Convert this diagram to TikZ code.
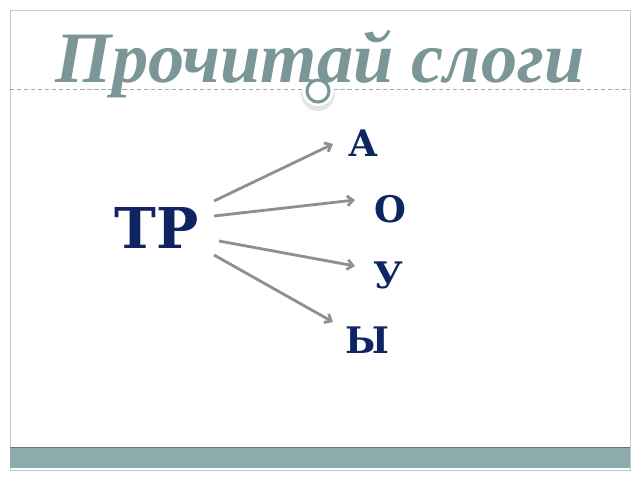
\documentclass[tikz,border=0pt]{standalone}
\usepackage{fontspec}
\setmainfont{DejaVu Serif}
\newfontfamily\headfont{Liberation Serif}
\usetikzlibrary{positioning, arrows.meta}

\definecolor{slate}{HTML}{7B9696}
\definecolor{navy}{HTML}{0F2562}
\definecolor{band}{HTML}{8DABAB}
\definecolor{arrowgrey}{HTML}{958E88}

\tikzset{
  syllable/.style={text=navy, font=\bfseries\fontsize{26}{26}\selectfont, inner sep=0pt},
  arr/.style={draw=arrowgrey, line width=2pt, -{Straight Barb[length=4pt, width=7pt]}}
}

\begin{document}
\begin{tikzpicture}[x=0.025cm, y=-0.025cm]
                \useasboundingbox (0,0) rectangle (640,480);
                \draw[draw=band!60, line width=0.6pt] (10,10) rectangle (630,470);
                \fill[band] (10,447) rectangle (630,468);
                \draw[band!70!black, line width=0.4pt] (10,447) -- (630,447);
                \draw[gray!70, densely dashed, line width=0.3pt] (10,89) -- (630,89);
                \fill[gray!20] (318,94) circle (17);
                \fill[white] (318,90) circle (16);
                \draw[slate, line width=2.2pt, fill=white] (318,91) circle (11);
                \node[text=slate, font=\headfont\bfseries\itshape\fontsize{51.5}{51.5}\selectfont] (title) at (320,64) {Прочитай слоги};
                \node[syllable, font=\bfseries\fontsize{40}{40}\selectfont] (tp) at (157,228) {ТР};
                \node[syllable] (a) at (363,143) {А};
                \node[syllable] (o) at (390,209) {О};
                \node[syllable] (u) at (388,275) {У};
                \node[syllable] (y) at (367,340) {Ы};
                \coordinate (s1) at (214,201);
                \coordinate (s2) at (214,216);
                \coordinate (s3) at (219,241);
                \coordinate (s4) at (214,255);
                \coordinate (e1) at (333,144);
                \coordinate (e2) at (355,200);
                \coordinate (e3) at (355,266);
                \coordinate (e4) at (333,322);
                \draw[arr] (s1) -- (e1);
                \draw[arr] (s2) -- (e2);
                \draw[arr] (s3) -- (e3);
                \draw[arr] (s4) -- (e4);
            \end{tikzpicture}
\end{document}
